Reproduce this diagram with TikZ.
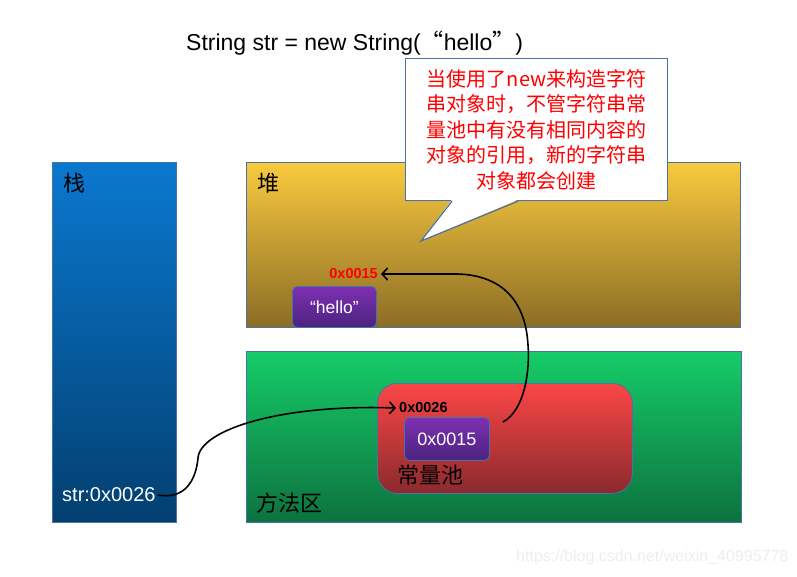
\documentclass[tikz,border=0pt]{standalone}
\usepackage{fontspec}
\setmainfont{Liberation Sans}
\newfontfamily\cjk{Noto Sans CJK SC}
\usetikzlibrary{arrows.meta}

\definecolor{edgeblue}{HTML}{4A72A6}
\definecolor{stacktop}{HTML}{0A78CF}
\definecolor{stackbot}{HTML}{033F70}
\definecolor{heaptop}{HTML}{F9CA3F}
\definecolor{heapbot}{HTML}{8B6D25}
\definecolor{methtop}{HTML}{16CC68}
\definecolor{methbot}{HTML}{0C723F}
\definecolor{pooltop}{HTML}{FB4646}
\definecolor{poolbot}{HTML}{8A2A2E}
\definecolor{purpletop}{HTML}{7E30B1}
\definecolor{purplebot}{HTML}{4B2380}

\begin{document}
\begin{tikzpicture}[x=1pt,y=-1pt,
    area/.style={draw=edgeblue,line width=.8pt,anchor=north west,inner sep=0pt},
    valbox/.style={area,rounded corners=5pt,top color=purpletop,bottom color=purplebot,text=white},
    zh/.style={font=\cjk\fontsize{22}{22}\selectfont,inner sep=0pt},
    addr/.style={font=\bfseries\fontsize{14.5}{14.5}\selectfont,inner sep=3pt},
    link/.style={line width=1.6pt,-{Straight Barb[length=5.5pt,width=12pt]}}]
\useasboundingbox (0,0) rectangle (797,577);

% the statement
\node[anchor=west,inner sep=0pt,font=\fontsize{23}{23}\selectfont] (code) at (186,43)
  {String str = new String({\cjk “}hello{\cjk ”})};

% stack, heap, method area
\node[area,minimum width=124,minimum height=360,top color=stacktop,bottom color=stackbot] (stack) at (52,162) {};
\node[area,minimum width=494,minimum height=165,top color=heaptop,bottom color=heapbot] (heap) at (246,162) {};
\node[area,minimum width=495,minimum height=171,top color=methtop,bottom color=methbot] (method) at (246,351) {};
\node[area,rounded corners=20pt,minimum width=255,minimum height=110,top color=pooltop,bottom color=poolbot] (pool) at (377,383) {};

\node[zh,anchor=west] (stacklbl) at (63,183) {栈};
\node[zh,anchor=west] (heaplbl) at (257,183) {堆};
\node[zh,anchor=west] (methlbl) at (256,503) {方法区};
\node[zh,anchor=west] (poollbl) at (397,475) {常量池};

% values
\node[anchor=west,inner sep=2pt,text=white,font=\fontsize{20}{20}\selectfont] (str) at (60,495) {str:0x0026};
\node[valbox,minimum width=84,minimum height=41,font=\fontsize{17.5}{17.5}\selectfont] (hello) at (292,286) {“hello”};
\node[valbox,minimum width=85,minimum height=43,font=\fontsize{18}{18}\selectfont] (cp15) at (404,417) {0x0015};
\node[addr,anchor=east,text=red] (addr15) at (381,274) {0x0015};
\node[addr,anchor=west] (addr26) at (396,408) {0x0026};

% references
\coordinate (src15) at (503,422);
\draw[link] (str.east) .. controls (185,500) and (196,480) .. (198,458)
  .. controls (200,430) and (280,404) .. (addr26.west);
\draw[link] (src15) .. controls (525,410) and (530,370) .. (528,345)
  .. controls (525,290) and (490,274) .. (455,274) -- (addr15.east);

% note
\node[area,fill=white,draw=edgeblue,line width=1.2pt,minimum width=262,minimum height=142,
  align=center,text=red,font=\cjk\fontsize{20}{25.5}\selectfont] (note) at (405,58)
  {当使用了new来构造字符\\串对象时，不管字符串常\\量池中有没有相同内容的\\对象的引用，新的字符串\\对象都会创建};
\coordinate (tip) at (421,241);
\fill[white] ([xshift=47pt,yshift=1.5pt]note.south west) -- ([xshift=113pt,yshift=1.5pt]note.south west) -- (tip) -- cycle;
\draw[edgeblue,line width=1.2pt,line join=miter] ([xshift=47pt]note.south west) -- (tip) -- ([xshift=113pt]note.south west);

% watermark
\node[anchor=west,inner sep=0pt,text=black!7,font=\fontsize{16}{16}\selectfont] (mark) at (516,557) {https://blog.csdn.net/weixin\_40995778};
\end{tikzpicture}
\end{document}
